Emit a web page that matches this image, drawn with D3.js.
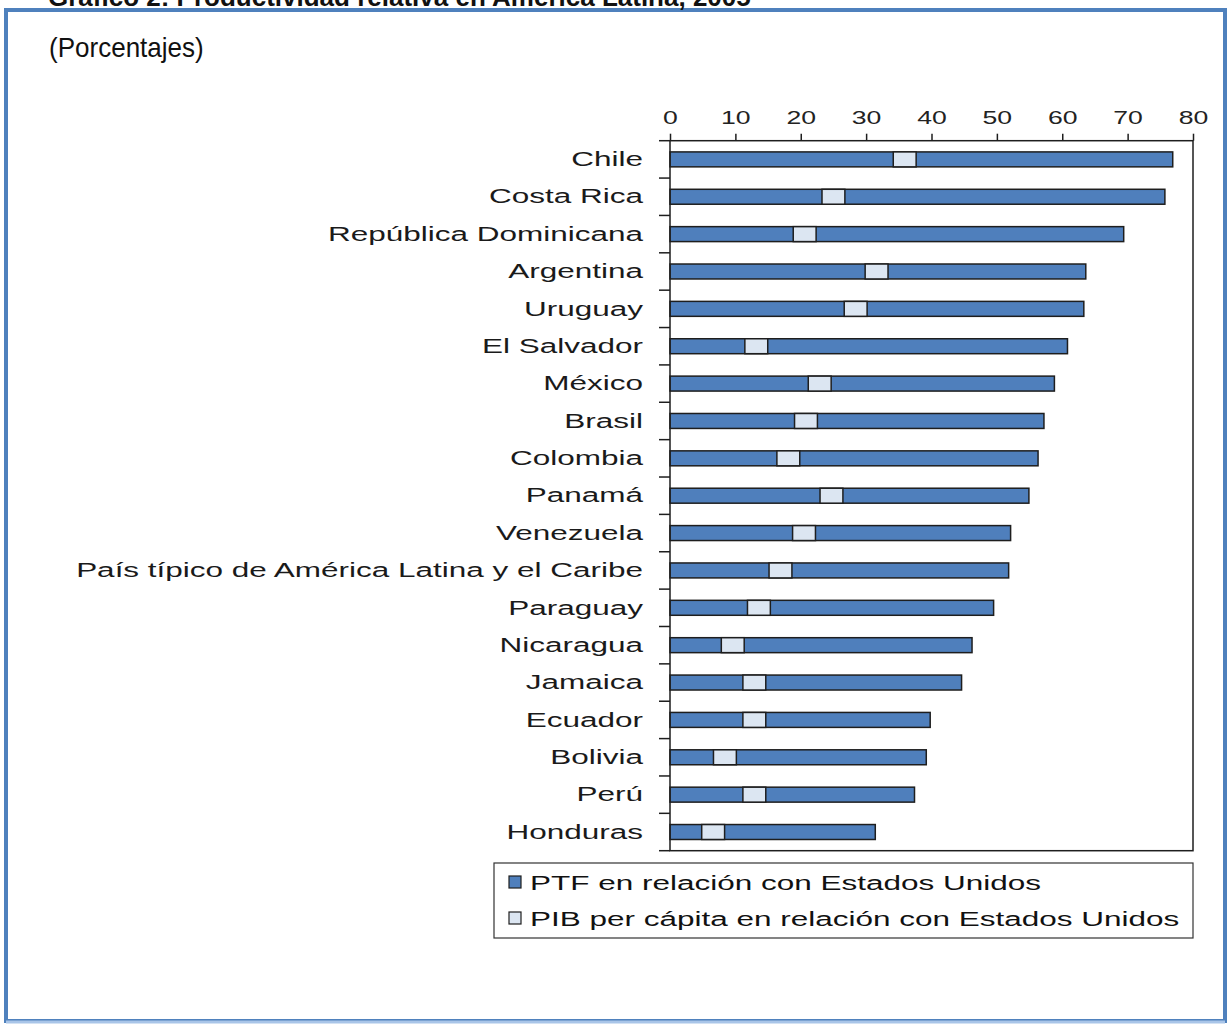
<!DOCTYPE html>
<html>
<head>
<meta charset="utf-8">
<script src="https://cdn.jsdelivr.net/npm/d3@7"></script>
<style>
  body { margin: 0; background: #fff; }
  text { font-family: "Liberation Sans", Arial, sans-serif; }
</style>
</head>
<body>
<div id="chart"></div>
<script>
// relative productivity chart, horizontal bars with a light marker for GDP per capita

var categories = ["Chile", "Costa Rica", "República Dominicana", "Argentina", "Uruguay",
  "El Salvador", "México", "Brasil", "Colombia", "Panamá", "Venezuela",
  "País típico de América Latina y el Caribe", "Paraguay", "Nicaragua", "Jamaica",
  "Ecuador", "Bolivia", "Perú", "Honduras"];

// PTF relative to US (bar end)
var ptfValues = [76.9, 75.7, 69.4, 63.6, 63.3, 60.8, 58.8, 57.2, 56.3, 54.9, 52.1,
  51.8, 49.5, 46.2, 44.6, 39.8, 39.2, 37.4, 31.4];

// PIB per capita relative to US (marker centre)
var pibValues = [35.9, 25.0, 20.6, 31.6, 28.4, 13.2, 22.9, 20.8, 18.1, 24.7, 20.5,
  16.9, 13.6, 9.6, 12.9, 12.9, 8.4, 12.9, 6.6];

var tickValues = [0, 10, 20, 30, 40, 50, 60, 70, 80];
var legendLabels = ["PTF en relación con Estados Unidos", "PIB per cápita en relación con Estados Unidos"];
var titleText = "Gráfico 2: Productividad relativa en América Latina, 2005";
var subtitleText = "(Porcentajes)";

var width = 1231, height = 1025;
var barColor = "#4f7fbc", markColor = "#dce6f2", lineColor = "#1e1e1e";
var markHalf = 1.75; // half width of the light marker, in axis units
var stretch = 1.5;   // the original text is horizontally stretched

var svg = d3.select("#chart").append("svg")
  .attr("width", width)
  .attr("height", height);

// blue page frame
svg.append("rect")
  .attr("x", 6).attr("y", 10)
  .attr("width", 1219).attr("height", 1011)
  .attr("fill", "none")
  .attr("stroke", "#4f81bd")
  .attr("stroke-width", 4);
svg.append("line")
  .attr("x1", 6).attr("x2", 1225)
  .attr("y1", 1022).attr("y2", 1022)
  .attr("stroke", "#a9c5e8").attr("stroke-width", 3);

// title, cut off by the top of the page
svg.append("text")
  .attr("x", 48).attr("y", 6)
  .attr("font-size", 26)
  .attr("font-weight", "bold")
  .attr("fill", "#111")
  .text(titleText);

svg.append("text")
  .attr("transform", "translate(49,57) scale(0.93,1)")
  .attr("font-size", 28)
  .attr("fill", "#111")
  .text(subtitleText);

var x = d3.scaleLinear().domain([0, 80]).range([670, 1193]);
var y = d3.scaleBand().domain(categories).range([140.7, 850.7])
  .paddingInner(0.6).paddingOuter(0.3);

var data = categories.map(function(c, i) {
  return { name: c, ptf: ptfValues[i], pib: pibValues[i] };
});

// bars
var bars = svg.append("g").attr("class", "bars");
bars.selectAll("rect.ptf")
  .data(data)
  .enter().append("rect")
  .attr("class", "ptf")
  .attr("x", x(0))
  .attr("y", function(d) { return y(d.name); })
  .attr("width", function(d) { return x(d.ptf) - x(0); })
  .attr("height", y.bandwidth())
  .attr("fill", barColor)
  .attr("stroke", lineColor)
  .attr("stroke-width", 1.5);

bars.selectAll("rect.pib")
  .data(data)
  .enter().append("rect")
  .attr("class", "pib")
  .attr("x", function(d) { return x(d.pib - markHalf); })
  .attr("y", function(d) { return y(d.name); })
  .attr("width", function(d) { return x(d.pib + markHalf) - x(d.pib - markHalf); })
  .attr("height", y.bandwidth())
  .attr("fill", markColor)
  .attr("stroke", lineColor)
  .attr("stroke-width", 1.5);

// plot frame
svg.append("rect")
  .attr("x", x(0)).attr("y", y.range()[0])
  .attr("width", x(80) - x(0))
  .attr("height", y.range()[1] - y.range()[0])
  .attr("fill", "none")
  .attr("stroke", lineColor)
  .attr("stroke-width", 1.5);

// top axis
var topAxis = svg.append("g")
  .attr("transform", "translate(0," + y.range()[0] + ")")
  .call(d3.axisTop(x).tickValues(tickValues).tickSize(7).tickPadding(10));
topAxis.select(".domain").remove();
topAxis.selectAll("line").attr("stroke", lineColor).attr("stroke-width", 1.5);
topAxis.selectAll("text")
  .attr("font-family", "'Liberation Sans', Arial, sans-serif")
  .attr("font-size", 19)
  .attr("fill", "#222")
  .attr("transform", "scale(1.4,1)");

// category ticks sit on band boundaries
var bounds = d3.range(categories.length + 1).map(function(i) {
  return y.range()[0] + i * y.step();
});
svg.append("g").selectAll("line")
  .data(bounds)
  .enter().append("line")
  .attr("x1", x(0) - 11).attr("x2", x(0))
  .attr("y1", function(d) { return d; })
  .attr("y2", function(d) { return d; })
  .attr("stroke", lineColor)
  .attr("stroke-width", 1.5);

// category labels
svg.append("g").selectAll("text")
  .data(categories)
  .enter().append("text")
  .attr("transform", function(d) {
    return "translate(643," + (y(d) + y.bandwidth() / 2) + ") scale(" + stretch + ",1)";
  })
  .attr("text-anchor", "end")
  .attr("dy", "0.32em")
  .attr("font-size", 21)
  .attr("fill", "#1a1a1a")
  .text(function(d) { return d; });

// legend
var legend = svg.append("g").attr("transform", "translate(494,863)");
legend.append("rect")
  .attr("width", 699).attr("height", 75)
  .attr("fill", "#fff")
  .attr("stroke", "#333")
  .attr("stroke-width", 1.2);

var items = legend.selectAll("g.item")
  .data(legendLabels)
  .enter().append("g")
  .attr("class", "item")
  .attr("transform", function(d, i) { return "translate(15," + (19 + i * 36) + ")"; });
items.append("rect")
  .attr("x", 0).attr("y", -6)
  .attr("width", 12).attr("height", 12)
  .attr("fill", function(d, i) { return i == 0 ? barColor : markColor; })
  .attr("stroke", lineColor)
  .attr("stroke-width", 1.2);
items.append("text")
  .attr("transform", "translate(21,0) scale(" + stretch + ",1)")
  .attr("dy", "0.36em")
  .attr("font-size", 21)
  .attr("fill", "#111")
  .text(function(d) { return d; });
</script>
</body>
</html>
